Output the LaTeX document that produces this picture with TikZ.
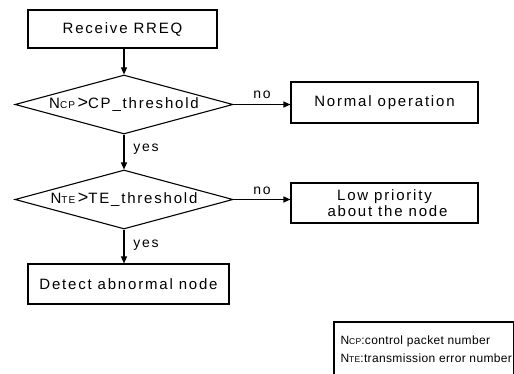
\documentclass[tikz,border=0pt]{standalone}
\usepackage{fontspec}
\setmainfont{Liberation Sans}[LetterSpace=12]
\newfontfamily\legfont{Liberation Sans}[LetterSpace=3]
\usetikzlibrary{shapes.geometric,arrows.meta}
\begin{document}
\begin{tikzpicture}[x=1pt,y=-1pt, line width=1.1pt,
  box/.style={draw, rectangle, inner sep=0pt, font=\fontsize{15}{18}\selectfont},
  dec/.style={draw, diamond, aspect=3.7, minimum width=218pt, minimum height=59pt, inner sep=0pt, font=\fontsize{15}{18}\selectfont},
  arr/.style={-{Triangle[length=7pt,width=6pt]}},
  lbl/.style={font=\fontsize{14}{16}\selectfont, inner sep=0pt},
  leg/.style={font=\legfont\fontsize{12}{14}\selectfont, inner sep=0pt, anchor=west}]
\useasboundingbox (0,0) rectangle (514,374);
\node[box, minimum width=189pt, minimum height=38pt] (rreq) at (122.5,29) {Receive RREQ};
\node[dec] (d1) at (124,104.5) {\makebox[0pt]{N{\fontsize{10}{10}\selectfont CP}\,{\fontsize{18}{18}\selectfont >}CP\_threshold}};
\node[box, minimum width=187pt, minimum height=41pt] (normal) at (384.5,102.5) {Normal operation};
\node[dec] (d2) at (124,199.5) {\makebox[0pt]{N{\fontsize{10}{10}\selectfont TE}\,{\fontsize{18}{18}\selectfont >}TE\_threshold}};
\node[box, minimum width=187pt, minimum height=40pt, align=center] (low) at (384.5,203) {Low priority\\[-2pt] \ about the node};
\node[box, minimum width=201pt, minimum height=40pt] (detect) at (128.5,284) {Detect abnormal node};
\node[lbl] (yes1) at (146,149) {yes};
\node[lbl] (yes2) at (146,245) {yes};
\node[lbl] (no1) at (262,95) {no};
\node[lbl] (no2) at (262,191) {no};
\draw[arr] (d1.north |- rreq.south) -- (d1.north);
\draw[arr] (d1.south) -- (d2.north);
\draw[arr] (d1.east) -- (d1.east -| normal.west);
\draw[arr] (d2.south) -- (d2.south |- detect.north);
\draw[arr] (d2.east) -- (d2.east -| low.west);
\node[rectangle, inner sep=0pt, anchor=north west, minimum width=178pt, minimum height=60pt] (legend) at (334,322) {};
\draw (legend.south west) -- (legend.north west) -- (legend.north east) -- (legend.south east);
\node[leg] (l1) at (340,341) {N{\fontsize{8.5}{8.5}\selectfont CP}:control packet number};
\node[leg] (l2) at (340,358) {N{\fontsize{8.5}{8.5}\selectfont TE}:transmission error number};
\end{tikzpicture}
\end{document}
